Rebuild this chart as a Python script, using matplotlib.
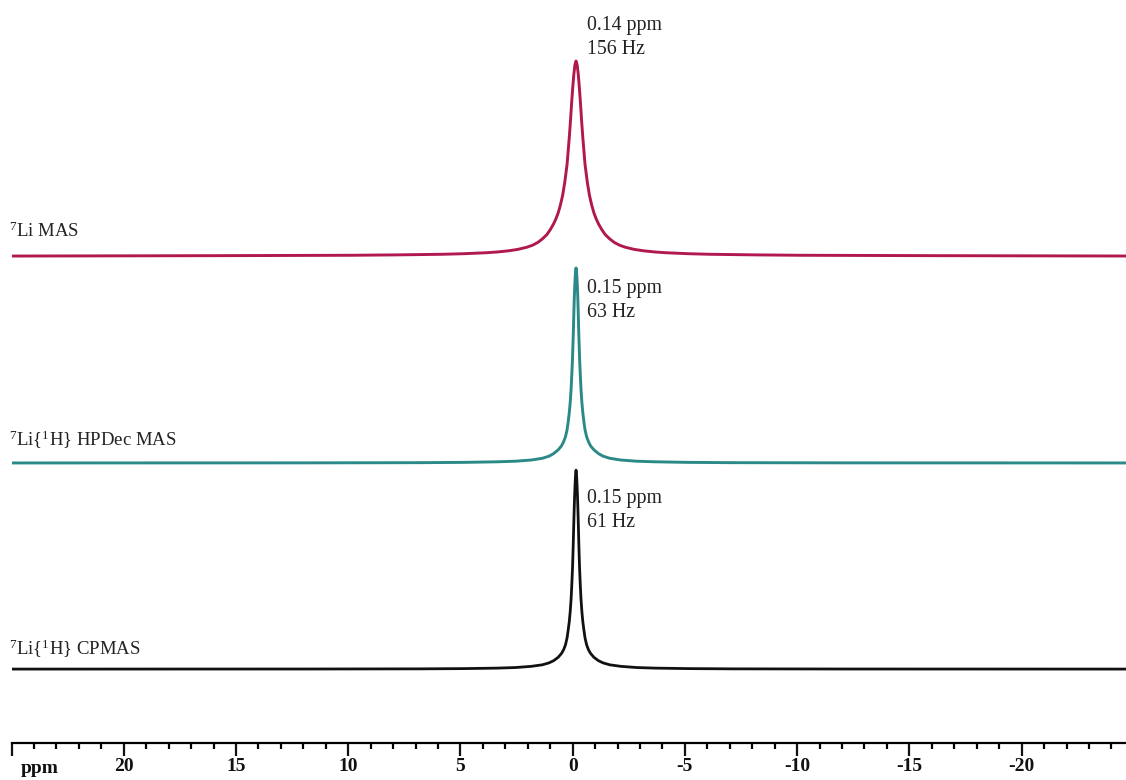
import matplotlib
matplotlib.use('Agg')
import matplotlib.pyplot as plt

plt.rcParams['font.family'] = 'Liberation Serif'
plt.rcParams['mathtext.fontset'] = 'custom'
plt.rcParams['mathtext.rm'] = 'Liberation Serif'
plt.rcParams['mathtext.it'] = 'Liberation Serif:italic'
plt.rcParams['mathtext.bf'] = 'Liberation Serif:bold'

# peak position as drawn (ppm) - same for all three traces
peak_center = -0.15

# 7Li MAS (red): distance from peak centre (ppm) and normalised intensity
mas_dppm = [0.0, 0.05, 0.1, 0.15, 0.2, 0.25, 0.3, 0.35, 0.4, 0.5, 0.6, 0.7, 0.8, 0.9, 1.0,
            1.15, 1.3, 1.5, 1.7, 1.95, 2.2, 2.6, 3.0, 3.5, 4.0, 5.0, 6.0, 8.0, 10.0, 16.0, 25.4]
mas_int = [1.0, 0.98, 0.93, 0.86, 0.78, 0.69, 0.61, 0.54, 0.47, 0.38, 0.31, 0.26, 0.22, 0.19, 0.165,
           0.135, 0.11, 0.088, 0.07, 0.055, 0.045, 0.034, 0.027, 0.021, 0.017, 0.012, 0.009, 0.006,
           0.004, 0.002, 0.0]

# 7Li{1H} HPDec MAS (teal)
hpdec_dppm = [0.0, 0.02, 0.04, 0.06, 0.08, 0.1, 0.12, 0.14, 0.16, 0.19, 0.22, 0.26, 0.3, 0.35,
              0.4, 0.47, 0.55, 0.65, 0.8, 1.0, 1.2, 1.5, 2.0, 2.7, 3.5, 5.0, 7.0, 12.0, 25.4]
hpdec_int = [1.0, 0.985, 0.95, 0.9, 0.84, 0.76, 0.67, 0.6, 0.53, 0.45, 0.38, 0.31, 0.26, 0.21,
             0.17, 0.135, 0.11, 0.087, 0.067, 0.048, 0.035, 0.024, 0.015, 0.009, 0.006, 0.003,
             0.0015, 0.0005, 0.0]

# 7Li{1H} CPMAS (black)
cp_dppm = hpdec_dppm
cp_int = [1.02, 1.0, 0.955, 0.9, 0.83, 0.75, 0.66, 0.58, 0.51, 0.43, 0.36, 0.295, 0.245, 0.2,
          0.16, 0.125, 0.10, 0.08, 0.06, 0.043, 0.032, 0.022, 0.014, 0.008, 0.005, 0.0025,
          0.0012, 0.0004, 0.0]

labels = [r'$^{7}$Li{$^{1}$H} CPMAS', r'$^{7}$Li{$^{1}$H} HPDec MAS', r'$^{7}$Li MAS']
shifts = ['0.15 ppm', '0.15 ppm', '0.14 ppm']
widths = ['61 Hz', '63 Hz', '156 Hz']
colors = ['#111111', '#2b8a87', '#b0184f']
offsets = [0.0, 1.057, 2.118]


def full_trace(dppm, inten):
    # symmetric line: left half then right half around the centre
    x = [peak_center + d for d in dppm[::-1]] + [peak_center - d for d in dppm[1:]]
    y = inten[::-1] + inten[1:]
    return x, y


fig = plt.figure(figsize=(11.26, 7.8), dpi=100)
ax = fig.add_axes([11.5 / 1126, 37 / 780, 1 - 11.5 / 1126, 743 / 780])

spectra = [(cp_dppm, cp_int), (hpdec_dppm, hpdec_int), (mas_dppm, mas_int)]
lws = [2.0, 2.1, 2.1]
for (d, i), c, off, lw in zip(spectra, colors, offsets, lws):
    x, y = full_trace(d, i)
    ax.plot(x, [v + off for v in y], color=c, lw=lw, solid_joinstyle='round')

ax.set_xlim(25, -24.65)
ax.set_ylim(-0.379, 3.431)

# sample labels
label_dy = [0.072, 0.087, 0.10]
for lab, off, dy in zip(labels, offsets, label_dy):
    ax.text(25.1, off + dy, lab, fontsize=13.5, color='#222222', va='baseline', ha='left')

# shift / width annotations
ann_y = [(0.851, 0.728), (0.872, 0.749), (1.159, 1.036)]
for s, w, off, (y1, y2) in zip(shifts, widths, offsets, ann_y):
    ax.text(-0.62, off + y1, s, fontsize=14.3, color='#222222', va='baseline', ha='left')
    ax.text(-0.62, off + y2, w, fontsize=14.3, color='#222222', va='baseline', ha='left')

# axis styling
for side in ['left', 'right', 'top']:
    ax.spines[side].set_visible(False)
ax.spines['bottom'].set_linewidth(1.6)
ax.set_yticks([])
ax.set_xticks([25, 20, 15, 10, 5, 0, -5, -10, -15, -20])
ax.set_xticklabels(['', '20', '15', '10', '5', '0', '-5', '-10', '-15', '-20'],
                   fontweight='bold', fontsize=14)
ax.set_xticks(range(24, -25, -1), minor=True)
ax.tick_params(axis='x', which='major', direction='out', length=9.5, width=1.6, pad=1.5,
               colors='#111111')
ax.tick_params(axis='x', which='minor', direction='out', length=4.5, width=1.6)
ax.text(24.6, -0.041, 'ppm', transform=ax.get_xaxis_transform(), fontsize=14,
        fontweight='bold', va='baseline', ha='left', color='#111111')

plt.savefig('out.png', dpi=100)
